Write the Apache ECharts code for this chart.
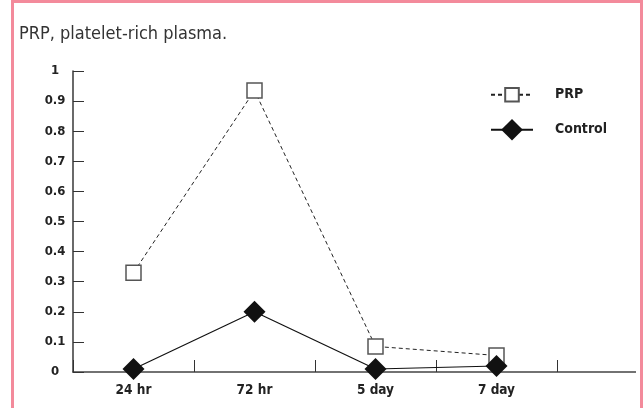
<!DOCTYPE html>
<html>
<head>
<meta charset="utf-8">
<script src="https://cdn.jsdelivr.net/npm/echarts@6/dist/echarts.min.js"></script>
<style>
  html, body { margin: 0; padding: 0; background: #fff; }
  #wrap { position: relative; width: 643px; height: 408px; overflow: hidden; }
  #chart { position: absolute; left: 0; top: 0; width: 636px; height: 408px; }
  #frame { position: absolute; left: 11px; top: 0; width: 632px; height: 420px; box-sizing: border-box;
           border: 3px solid #f38a9b; pointer-events: none; }
</style>
</head>
<body>
<div id="wrap">
  <div id="chart"></div>
  <div id="frame"></div>
</div>
<script>
const titleText = 'PRP, platelet-rich plasma.';
const categories = ['24 hr', '72 hr', '5 day', '7 day'];
const prpValues = [0.33, 0.935, 0.085, 0.055];
const controlValues = [0.01, 0.2, 0.01, 0.02];
const yMin = 0, yMax = 1, yStep = 0.1;

const FONT = "'Liberation Sans Narrow', 'DejaVu Sans Condensed', 'Roboto', sans-serif";
const chart = echarts.init(document.getElementById('chart'), null, { renderer: 'canvas' });

chart.setOption({
  animation: false,
  backgroundColor: '#fff',
  title: {
    text: titleText,
    left: 19, top: 25, padding: 0,
    textStyle: { fontFamily: FONT, fontSize: 18, fontWeight: 'normal', color: '#333' }
  },
  legend: [
    {
      data: ['PRP'], orient: 'vertical', left: 490, top: 87, padding: 0,
      itemWidth: 42, itemHeight: 17,
      textStyle: { fontFamily: FONT, fontSize: 14, fontWeight: 'bold', color: '#222', padding: [0, 0, 0, 17] }
    },
    {
      data: ['Control'], orient: 'vertical', left: 490, top: 119, padding: 0,
      itemWidth: 42, itemHeight: 27,
      textStyle: { fontFamily: FONT, fontSize: 14, fontWeight: 'bold', color: '#222', padding: [0, 0, 0, 17] }
    }
  ],
  grid: { left: 73, top: 71, width: 605, height: 301, containLabel: false, outerBoundsMode: 'none' },
  xAxis: {
    type: 'category',
    data: categories.concat(['']),
    boundaryGap: true,
    axisLine: { lineStyle: { color: '#444', width: 1.6 } },
    axisTick: { show: true, inside: true, length: 12, lineStyle: { color: '#333', width: 1 } },
    axisLabel: { fontFamily: FONT, fontSize: 13.5, fontWeight: 'bold', color: '#222', margin: 11 },
    splitLine: { show: false }
  },
  yAxis: {
    type: 'value', min: yMin, max: yMax, interval: yStep,
    axisLine: { show: true, lineStyle: { color: '#444', width: 1.6 } },
    axisTick: { show: true, inside: true, length: 11, lineStyle: { color: '#333', width: 1 } },
    axisLabel: { fontFamily: FONT, fontSize: 13, fontWeight: 'bold', color: '#222', margin: 18, align: 'center' },
    splitLine: { show: false }
  },
  series: [
    {
      name: 'PRP', type: 'line', data: prpValues,
      symbol: 'rect', symbolSize: 15,
      itemStyle: { color: '#fff', borderColor: '#555', borderWidth: 1.5 },
      lineStyle: { color: '#222', width: 1, type: [4, 3] },
      z: 2
    },
    {
      name: 'Control', type: 'line', data: controlValues,
      symbol: 'diamond', symbolSize: 22,
      itemStyle: { color: '#111', borderColor: '#111', borderWidth: 0 },
      lineStyle: { color: '#111', width: 1.2 },
      z: 3
    }
  ]
});
</script>
</body>
</html>
